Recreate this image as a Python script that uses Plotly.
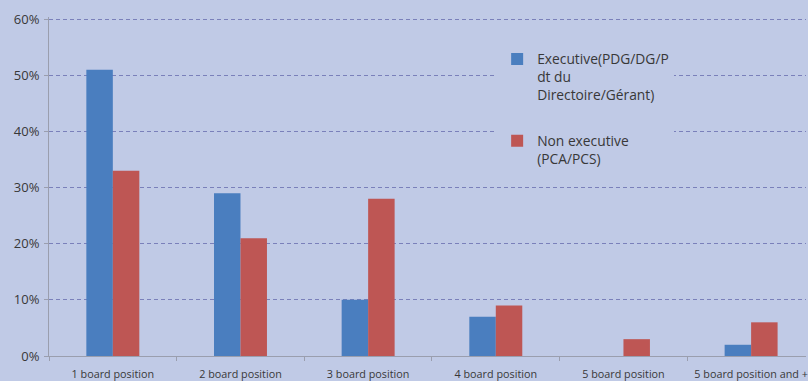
import plotly.graph_objects as go

categories = ["1 board position", "2 board position", "3 board position",
              "4 board position", "5 board position", "5 board position and +"]
executive = [0.51, 0.29, 0.10, 0.07, 0.00, 0.02]
non_executive = [0.33, 0.21, 0.28, 0.09, 0.03, 0.06]
y_ticks = [0, 0.1, 0.2, 0.3, 0.4, 0.5, 0.6]
y_tick_labels = ["0%", "10%", "20%", "30%", "40%", "50%", "60%"]

BG = "#C0CAE6"
FONT = "Open Sans"
TXT = "#383838"

fig = go.Figure()
fig.add_trace(go.Bar(
    x=categories, y=executive,
    name="Executive(PDG/DG/P<br>dt du<br>Directoire/Gérant)",
    marker=dict(color="#4A7EBF", line=dict(width=0)),
    legendgroup="a",
))
fig.add_trace(go.Bar(
    x=categories, y=non_executive,
    name="Non executive<br>(PCA/PCS)",
    marker=dict(color="#BE5654", line=dict(width=0)),
    legendgroup="b",
))

fig.update_layout(
    width=808, height=381,
    margin=dict(l=49, r=0, t=17, b=24),
    paper_bgcolor=BG, plot_bgcolor=BG,
    barmode="group", bargap=0.585, bargroupgap=0,
    font=dict(family=FONT, color=TXT),
    showlegend=True,
    legend=dict(
        x=0.592, y=0.922, xanchor="left", yanchor="top",
        bgcolor=BG, borderwidth=0,
        font=dict(family=FONT, size=13.8, color=TXT),
        tracegroupgap=25, valign="top",
    ),
    xaxis=dict(
        range=[-0.5, 5.43],
        showline=True, linecolor="#9A9EAE", linewidth=1,
        ticks="outside", tickson="boundaries", ticklen=4, tickcolor="#9A9EAE",
        tickfont=dict(family=FONT, size=10.8, color=TXT),
        ticklabelstandoff=8,
        showgrid=False,
    ),
    yaxis=dict(
        range=[0, 0.604],
        tickvals=y_ticks, ticktext=y_tick_labels,
        showline=True, linecolor="#9A9EAE", linewidth=1,
        ticks="outside", ticklen=4, tickcolor="#9A9EAE",
        tickfont=dict(family=FONT, size=13, color=TXT),
        ticklabelstandoff=2,
        showgrid=True, gridcolor="#7A80BA", griddash="4px,3px", gridwidth=1,
        zeroline=False,
    ),
)

fig.write_html("out.html")
